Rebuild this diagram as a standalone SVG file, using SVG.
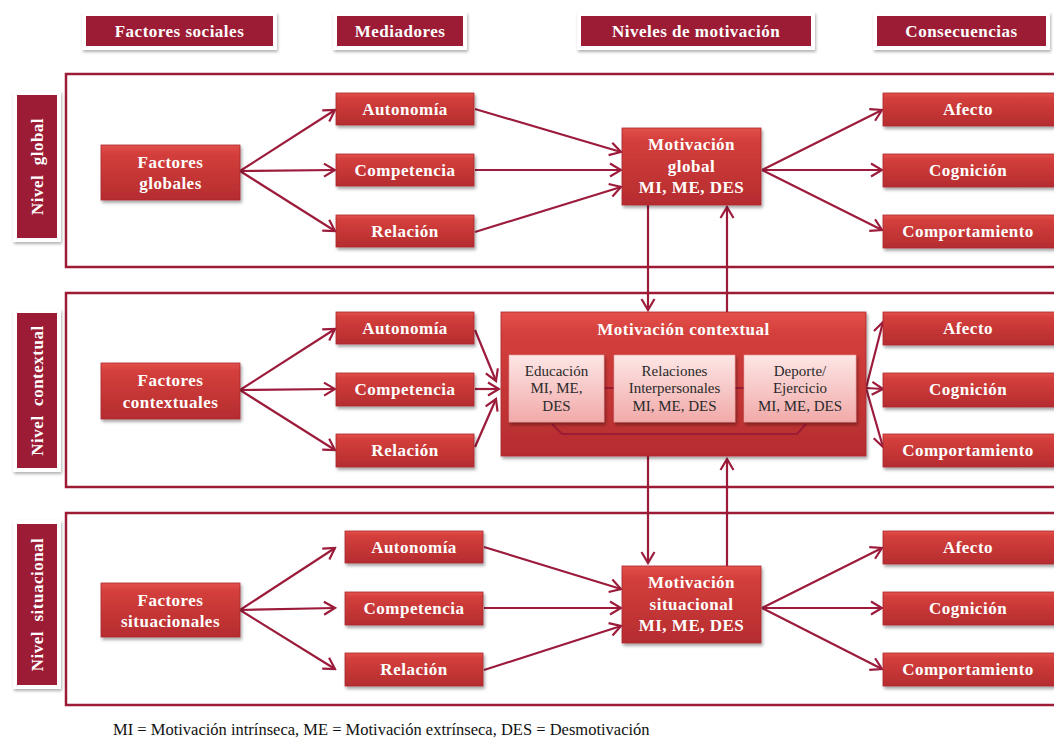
<svg xmlns="http://www.w3.org/2000/svg" width="1054" height="738" viewBox="0 0 1054 738">
<defs>
<style>
.lbl{fill:#fff;font-family:"Liberation Serif","Times New Roman",serif;font-weight:bold;font-size:17px;letter-spacing:0.5px;text-anchor:middle}
.in{fill:#2a2a2a;font-family:"Liberation Serif","Times New Roman",serif;font-size:15px;text-anchor:middle}
.foot{fill:#111;font-family:"Liberation Serif","Times New Roman",serif;font-size:16.5px}
.box{fill:url(#red);stroke:#a82a2e;stroke-width:0.8;filter:url(#sh)}
.hdr{fill:#9c1b35}
.frame{fill:#fff;filter:url(#sh2)}
.panel{fill:none;stroke:#9c1b35;stroke-width:2.5}
.ib{fill:url(#pink);stroke:#e49a9a;stroke-width:0.6;filter:url(#sh)}
.con{fill:none;stroke:#9c1b3b;stroke-width:2.2}
.arr{marker-end:url(#ah)}
</style>
<linearGradient id="red" x1="0" y1="0" x2="0" y2="1">
<stop offset="0" stop-color="#e4514b"/>
<stop offset="0.15" stop-color="#d43f3c"/>
<stop offset="1" stop-color="#b52c2f"/>
</linearGradient>
<linearGradient id="pink" x1="0" y1="0" x2="0" y2="1">
<stop offset="0" stop-color="#fde6e6"/>
<stop offset="1" stop-color="#f1aaa9"/>
</linearGradient>
<filter id="sh" x="-10%" y="-10%" width="125%" height="140%">
<feDropShadow dx="1.5" dy="2.5" stdDeviation="1.5" flood-color="#000" flood-opacity="0.35"/>
</filter>
<filter id="sh2" x="-10%" y="-10%" width="125%" height="140%">
<feDropShadow dx="1" dy="2" stdDeviation="1.5" flood-color="#000" flood-opacity="0.3"/>
</filter>
<marker id="ah" markerUnits="userSpaceOnUse" viewBox="-14 -8 16 16" markerWidth="16" markerHeight="16" refX="0" refY="0" orient="auto">
<path d="M-11,-6.5 L0,0 L-11,6.5" fill="none" stroke="#9c1b3b" stroke-width="2.2" stroke-linejoin="miter"/>
</marker>
</defs>
<rect width="1054" height="738" fill="#fff"/>

<g id="panels">
<rect class="panel" x="66" y="74" width="1000" height="193"/>
<rect class="panel" x="66" y="293" width="1000" height="194"/>
<rect class="panel" x="66" y="513" width="1000" height="192"/>
</g>

<g id="headers">
<g id="h-factores"><rect class="frame" x="82" y="12" width="195" height="38"/><rect class="hdr" x="86" y="16" width="187" height="30"/><text class="lbl" x="179.5" y="37">Factores sociales</text></g>
<g id="h-mediadores"><rect class="frame" x="333" y="12" width="134" height="38"/><rect class="hdr" x="337" y="16" width="126" height="30"/><text class="lbl" x="400" y="37">Mediadores</text></g>
<g id="h-niveles"><rect class="frame" x="577" y="12" width="238" height="38"/><rect class="hdr" x="581" y="16" width="230" height="30"/><text class="lbl" x="696" y="37">Niveles de motivación</text></g>
<g id="h-consecuencias"><rect class="frame" x="873" y="12" width="177" height="38"/><rect class="hdr" x="877" y="16" width="169" height="30"/><text class="lbl" x="961.5" y="37">Consecuencias</text></g>
</g>

<g id="side-labels">
<g id="s-global"><rect class="frame" x="13" y="91" width="48" height="151"/><rect class="hdr" x="17" y="95" width="40" height="143"/><text class="lbl" x="37" y="172.5" transform="rotate(-90 37 166.5)" xml:space="preserve">Nivel  global</text></g>
<g id="s-contextual"><rect class="frame" x="13" y="309" width="48" height="163"/><rect class="hdr" x="17" y="313" width="40" height="155"/><text class="lbl" x="37" y="396.5" transform="rotate(-90 37 390.5)" xml:space="preserve">Nivel  contextual</text></g>
<g id="s-situacional"><rect class="frame" x="13" y="520" width="48" height="169"/><rect class="hdr" x="17" y="524" width="40" height="161"/><text class="lbl" x="37" y="610.5" transform="rotate(-90 37 604.5)" xml:space="preserve">Nivel  situacional</text></g>
</g>

<g id="connectors">
<line class="con arr" x1="240" y1="171" x2="335" y2="110"/>
<line class="con arr" x1="240" y1="171" x2="335" y2="170"/>
<line class="con arr" x1="240" y1="171" x2="335" y2="231"/>
<line class="con arr" x1="475" y1="109" x2="621" y2="152"/>
<line class="con arr" x1="475" y1="170" x2="621" y2="170"/>
<line class="con arr" x1="475" y1="232" x2="621" y2="187"/>
<line class="con arr" x1="762" y1="170" x2="882" y2="110"/>
<line class="con arr" x1="762" y1="170" x2="882" y2="170"/>
<line class="con arr" x1="762" y1="170" x2="882" y2="230"/>
<line class="con arr" x1="648" y1="205" x2="648" y2="310"/>
<line class="con arr" x1="727" y1="312" x2="727" y2="207"/>
<line class="con arr" x1="240" y1="390" x2="335" y2="329"/>
<line class="con arr" x1="240" y1="390" x2="335" y2="389"/>
<line class="con arr" x1="240" y1="390" x2="335" y2="450"/>
<line class="con arr" x1="475" y1="330" x2="496" y2="381"/>
<line class="con arr" x1="475" y1="389" x2="499" y2="389"/>
<line class="con arr" x1="475" y1="447" x2="496" y2="399"/>
<line class="con arr" x1="866" y1="388" x2="883" y2="322"/>
<line class="con arr" x1="866" y1="388" x2="883" y2="389"/>
<line class="con arr" x1="866" y1="388" x2="883" y2="447"/>
<line class="con arr" x1="648" y1="456" x2="648" y2="563"/>
<line class="con arr" x1="727" y1="566" x2="727" y2="459"/>
<line class="con arr" x1="240" y1="610" x2="335" y2="548"/>
<line class="con arr" x1="240" y1="610" x2="335" y2="608"/>
<line class="con arr" x1="240" y1="610" x2="335" y2="669"/>
<line class="con arr" x1="484" y1="547" x2="621" y2="589"/>
<line class="con arr" x1="484" y1="608" x2="621" y2="608"/>
<line class="con arr" x1="484" y1="670" x2="621" y2="626"/>
<line class="con arr" x1="762" y1="608" x2="882" y2="548"/>
<line class="con arr" x1="762" y1="608" x2="882" y2="608"/>
<line class="con arr" x1="762" y1="608" x2="882" y2="669"/>
</g>

<g id="factores-globales"><rect class="box" x="101" y="145" width="139" height="55"/><text class="lbl" x="170.5" y="168">Factores</text><text class="lbl" x="170.5" y="189">globales</text></g>
<g id="g-autonomia"><rect class="box" x="336" y="93" width="138" height="32"/><text class="lbl" x="405" y="115">Autonomía</text></g>
<g id="g-competencia"><rect class="box" x="336" y="154" width="138" height="32"/><text class="lbl" x="405" y="176">Competencia</text></g>
<g id="g-relacion"><rect class="box" x="336" y="215" width="138" height="32"/><text class="lbl" x="405" y="237">Relación</text></g>
<g id="motivacion-global"><rect class="box" x="622" y="128" width="139" height="77"/><text class="lbl" x="691.5" y="150">Motivación</text><text class="lbl" x="691.5" y="172">global</text><text class="lbl" x="691.5" y="193">MI, ME, DES</text></g>
<g id="g-afecto"><rect class="box" x="883" y="93" width="173" height="33"/><text class="lbl" x="968" y="115">Afecto</text></g>
<g id="g-cognicion"><rect class="box" x="883" y="154" width="173" height="33"/><text class="lbl" x="968" y="176">Cognición</text></g>
<g id="g-comportamiento"><rect class="box" x="883" y="215" width="173" height="33"/><text class="lbl" x="968" y="237">Comportamiento</text></g>

<g id="factores-contextuales"><rect class="box" x="101" y="363" width="139" height="56"/><text class="lbl" x="170.5" y="386">Factores</text><text class="lbl" x="170.5" y="408">contextuales</text></g>
<g id="c-autonomia"><rect class="box" x="336" y="312" width="138" height="32"/><text class="lbl" x="405" y="334">Autonomía</text></g>
<g id="c-competencia"><rect class="box" x="336" y="373" width="138" height="33"/><text class="lbl" x="405" y="395">Competencia</text></g>
<g id="c-relacion"><rect class="box" x="336" y="434" width="138" height="33"/><text class="lbl" x="405" y="456">Relación</text></g>
<g id="motivacion-contextual">
<rect class="box" x="501" y="312" width="365" height="144"/>
<text class="lbl" x="683.5" y="335">Motivación contextual</text>
<path d="M604,388 L614,388 M735,388 L744,388 M552,424 L562,434 L797,434 L806,424" fill="none" stroke="#9c1b35" stroke-width="2"/>
<g id="educacion"><rect class="ib" x="509" y="355" width="95" height="67"/><text class="in" x="556.5" y="376">Educación</text><text class="in" x="556.5" y="393">MI, ME,</text><text class="in" x="556.5" y="411">DES</text></g>
<g id="relaciones"><rect class="ib" x="614" y="355" width="121" height="67"/><text class="in" x="674.5" y="376">Relaciones</text><text class="in" x="674.5" y="393">Interpersonales</text><text class="in" x="674.5" y="411">MI, ME, DES</text></g>
<g id="deporte"><rect class="ib" x="744" y="355" width="112" height="67"/><text class="in" x="800" y="376">Deporte/</text><text class="in" x="800" y="393">Ejercicio</text><text class="in" x="800" y="411">MI, ME, DES</text></g>
</g>
<g id="c-afecto"><rect class="box" x="883" y="312" width="173" height="33"/><text class="lbl" x="968" y="334">Afecto</text></g>
<g id="c-cognicion"><rect class="box" x="883" y="373" width="173" height="34"/><text class="lbl" x="968" y="395">Cognición</text></g>
<g id="c-comportamiento"><rect class="box" x="883" y="434" width="173" height="33"/><text class="lbl" x="968" y="456">Comportamiento</text></g>

<g id="factores-situacionales"><rect class="box" x="101" y="583" width="139" height="54"/><text class="lbl" x="170.5" y="606">Factores</text><text class="lbl" x="170.5" y="627">situacionales</text></g>
<g id="s-autonomia"><rect class="box" x="345" y="531" width="138" height="32"/><text class="lbl" x="414" y="553">Autonomía</text></g>
<g id="s-competencia"><rect class="box" x="345" y="592" width="138" height="33"/><text class="lbl" x="414" y="614">Competencia</text></g>
<g id="s-relacion"><rect class="box" x="345" y="653" width="138" height="33"/><text class="lbl" x="414" y="675">Relación</text></g>
<g id="motivacion-situacional"><rect class="box" x="622" y="566" width="139" height="77"/><text class="lbl" x="691.5" y="588">Motivación</text><text class="lbl" x="691.5" y="610">situacional</text><text class="lbl" x="691.5" y="631">MI, ME, DES</text></g>
<g id="s-afecto"><rect class="box" x="883" y="531" width="173" height="33"/><text class="lbl" x="968" y="553">Afecto</text></g>
<g id="s-cognicion"><rect class="box" x="883" y="592" width="173" height="33"/><text class="lbl" x="968" y="614">Cognición</text></g>
<g id="s-comportamiento"><rect class="box" x="883" y="653" width="173" height="33"/><text class="lbl" x="968" y="675">Comportamiento</text></g>

<text class="foot" x="113" y="735">MI = Motivación intrínseca, ME = Motivación extrínseca, DES = Desmotivación</text>
</svg>
